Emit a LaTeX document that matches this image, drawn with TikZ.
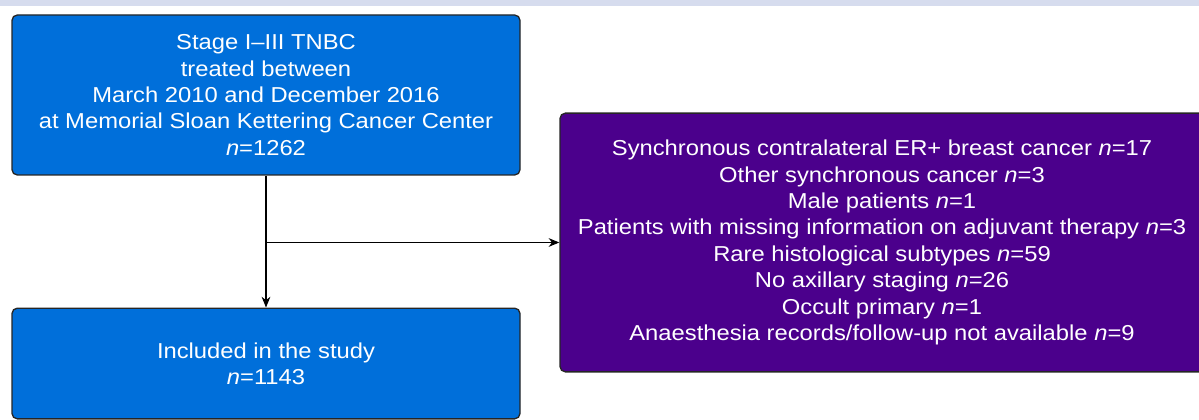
\documentclass[tikz,border=0pt]{standalone}
\usepackage{fontspec}
\setmainfont{Liberation Sans}[FakeStretch=1.1]
\usetikzlibrary{shapes,arrows.meta}
\usetikzlibrary{positioning}
\definecolor{boxblue}{RGB}{0,111,218}
\definecolor{boxpurple}{RGB}{75,0,140}
\definecolor{topband}{RGB}{214,220,238}
\tikzset{flow box/.style={rectangle,rounded corners=4pt,draw=black!85,line width=1pt,text=white,align=center,font=\fontsize{16.2}{19.8}\selectfont,inner sep=0pt}}
\newcommand{\ncount}[1]{\textit{n}=#1}

\begin{document}
\begin{tikzpicture}[x=0.75pt,y=-0.75pt,->,>={Stealth[length=8pt,width=6.5pt,inset=2.5pt]},line width=0.9pt]
  \useasboundingbox (0,0) rectangle (1199,420);
  \fill[topband] (0,0) rectangle (1199,6);
  \node[flow box,fill=boxblue,minimum width=381pt,minimum height=120pt] (cohort) at (266,95)
    {Stage I--III TNBC\\treated between\\March 2010 and December 2016\\at Memorial Sloan Kettering Cancer Center\\\ncount{1262}};
  \node[flow box,fill=boxblue,minimum width=381pt,minimum height=83pt] (included) at (266,363.5)
    {Included in the study\\\ncount{1143}};
  \node[flow box,fill=boxpurple,minimum width=483pt,minimum height=194pt] (excluded) at (882,242.5)
    {Synchronous contralateral ER+ breast cancer \ncount{17}\\
     Other synchronous cancer \ncount{3}\\
     Male patients \ncount{1}\\
     Patients with missing information on adjuvant therapy \ncount{3}\\
     Rare histological subtypes \ncount{59}\\
     No axillary staging \ncount{26}\\
     Occult primary \ncount{1}\\
     Anaesthesia records/follow-up not available \ncount{9}};
  \coordinate (split) at (cohort.south |- excluded.west);
  \draw (cohort.south) -- (included.north);
  \draw (split) -- (excluded.west);
\end{tikzpicture}
\end{document}
